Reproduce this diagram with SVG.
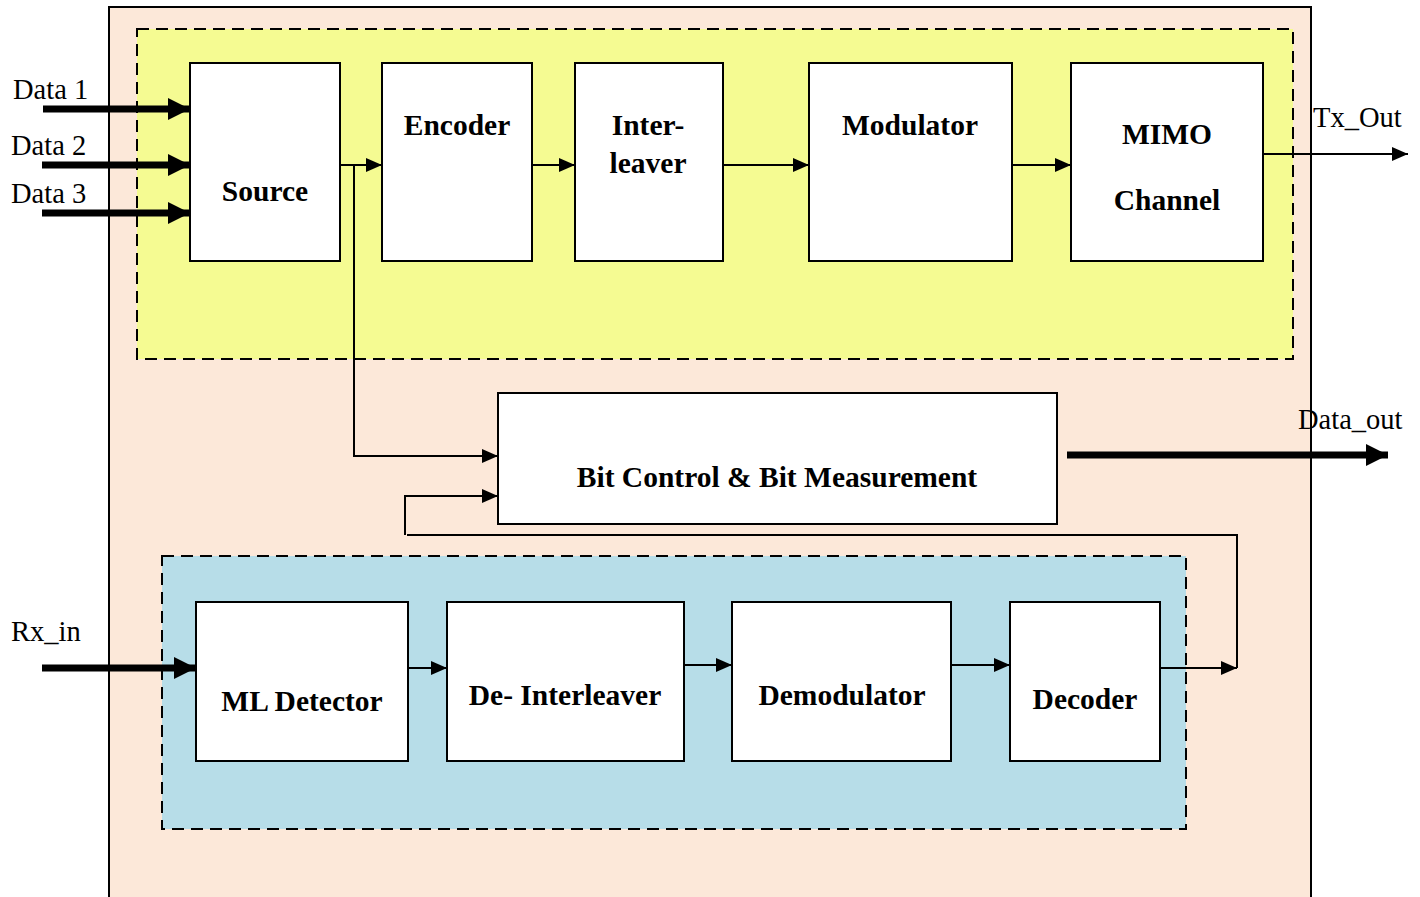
<svg xmlns="http://www.w3.org/2000/svg" width="1420" height="897" viewBox="0 0 1420 897">
<style>
.blk{fill:#fff;stroke:#000;stroke-width:2}
.t{font-family:"Liberation Serif","Times New Roman",serif;font-size:29.5px;font-weight:bold;text-anchor:middle;fill:#000}
.l{font-family:"Liberation Serif","Times New Roman",serif;font-size:28.5px;fill:#000}
.c{fill:none;stroke:#000;stroke-width:2}
.k{fill:none;stroke:#000;stroke-width:7}
</style>
<defs>
<marker id="as" markerWidth="16" markerHeight="14" refX="16" refY="7" orient="auto" markerUnits="userSpaceOnUse"><path d="M0,0 L16,7 L0,14 Z"/></marker>
<marker id="ab" markerWidth="22" markerHeight="22" refX="22" refY="11" orient="auto" markerUnits="userSpaceOnUse"><path d="M0,0 L22,11 L0,22 Z"/></marker>
</defs>
<rect width="1420" height="897" fill="#fff"/>
<rect id="outer" x="109" y="7" width="1202" height="895" fill="#FCE8D9" stroke="#000" stroke-width="2"/>
<rect id="tx" x="137" y="29" width="1156" height="330" fill="#F5FB92" stroke="#000" stroke-width="2" stroke-dasharray="12,7"/>
<rect id="rx" x="162" y="556" width="1024" height="273" fill="#B7DDE8" stroke="#000" stroke-width="2" stroke-dasharray="12,7"/>
<g id="connectors">
<line class="k" x1="43" y1="109" x2="190" y2="109" marker-end="url(#ab)"/>
<line class="k" x1="42" y1="165" x2="190" y2="165" marker-end="url(#ab)"/>
<line class="k" x1="42" y1="213" x2="190" y2="213" marker-end="url(#ab)"/>
<line class="c" x1="340" y1="165" x2="382" y2="165" marker-end="url(#as)"/>
<polyline class="c" points="354,165 354,456 498,456" marker-end="url(#as)"/>
<line class="c" x1="532" y1="165" x2="575" y2="165" marker-end="url(#as)"/>
<line class="c" x1="723" y1="165" x2="809" y2="165" marker-end="url(#as)"/>
<line class="c" x1="1012" y1="165" x2="1071" y2="165" marker-end="url(#as)"/>
<line class="c" x1="1263" y1="154" x2="1408" y2="154" marker-end="url(#as)"/>
<line class="k" x1="1067" y1="455" x2="1388" y2="455" marker-end="url(#ab)"/>
<polyline class="c" points="405,535 405,496 498,496" marker-end="url(#as)"/>
<polyline class="c" points="407,535 1237,535 1237,668"/>
<line class="c" x1="1160" y1="668" x2="1237" y2="668" marker-end="url(#as)"/>
<line class="k" x1="42" y1="668" x2="196" y2="668" marker-end="url(#ab)"/>
<line class="c" x1="408" y1="668" x2="447" y2="668" marker-end="url(#as)"/>
<line class="c" x1="684" y1="665" x2="732" y2="665" marker-end="url(#as)"/>
<line class="c" x1="951" y1="665" x2="1010" y2="665" marker-end="url(#as)"/>
</g>
<g id="source"><rect class="blk" x="190" y="63" width="150" height="198"/><text class="t" x="265" y="201">Source</text></g>
<g id="encoder"><rect class="blk" x="382" y="63" width="150" height="198"/><text class="t" x="457" y="135">Encoder</text></g>
<g id="interleaver"><rect class="blk" x="575" y="63" width="148" height="198"/><text class="t" x="648" y="135">Inter-</text><text class="t" x="648" y="173">leaver</text></g>
<g id="modulator"><rect class="blk" x="809" y="63" width="203" height="198"/><text class="t" x="910" y="135">Modulator</text></g>
<g id="mimo"><rect class="blk" x="1071" y="63" width="192" height="198"/><text class="t" x="1167" y="144">MIMO</text><text class="t" x="1167" y="210">Channel</text></g>
<g id="bitcontrol"><rect class="blk" x="498" y="393" width="559" height="131"/><text class="t" x="777" y="487">Bit Control &amp; Bit Measurement</text></g>
<g id="mldetector"><rect class="blk" x="196" y="602" width="212" height="159"/><text class="t" x="302" y="711">ML Detector</text></g>
<g id="deinterleaver"><rect class="blk" x="447" y="602" width="237" height="159"/><text class="t" x="565" y="705">De- Interleaver</text></g>
<g id="demodulator"><rect class="blk" x="732" y="602" width="219" height="159"/><text class="t" x="842" y="705">Demodulator</text></g>
<g id="decoder"><rect class="blk" x="1010" y="602" width="150" height="159"/><text class="t" x="1085" y="709">Decoder</text></g>
<g id="labels">
<text class="l" x="13" y="99">Data 1</text>
<text class="l" x="11" y="155">Data 2</text>
<text class="l" x="11" y="203">Data 3</text>
<text class="l" x="1313" y="127">Tx_Out</text>
<text class="l" x="1298" y="429">Data_out</text>
<text class="l" x="11" y="641">Rx_in</text>
</g>
</svg>
